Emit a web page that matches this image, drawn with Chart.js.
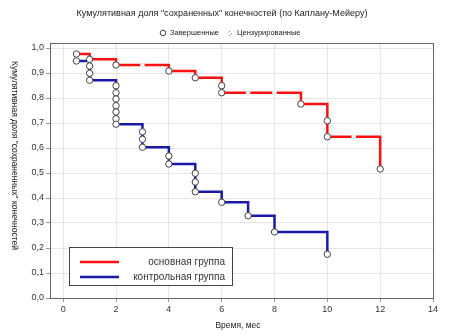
<!DOCTYPE html>
<html>
<head>
<meta charset="utf-8">
<script src="https://cdn.jsdelivr.net/npm/chart.js@4.4.1/dist/chart.umd.min.js"></script>
<style>
  html, body { margin: 0; padding: 0; background: #fff; }
  #wrap { width: 450px; height: 336px; }
</style>
</head>
<body>
<div id="wrap"><canvas id="kmChart" width="450" height="336"></canvas></div>
<script>
// основная группа - ступенчатая кривая
const mainTimes = [0.5, 1, 2, 4, 5, 6, 9, 10, 12];
const mainSurv  = [0.976, 0.955, 0.932, 0.908, 0.881, 0.821, 0.776, 0.645, 0.516];
// завершенные (кружки)
const mainEventT = [0.5, 1, 2, 4, 5, 6, 6, 9, 10, 10, 12];
const mainEventS = [0.976, 0.955, 0.932, 0.908, 0.881, 0.849, 0.821, 0.776, 0.709, 0.645, 0.516];
// цензурированные
const mainCensT = [3, 7, 8, 11];
const mainCensS = [0.932, 0.821, 0.821, 0.645];

// контрольная группа
const ctrlTimes = [0.5, 1, 2, 3, 4, 5, 6, 7, 8, 10];
const ctrlSurv  = [0.948, 0.871, 0.695, 0.603, 0.536, 0.425, 0.383, 0.329, 0.264, 0.175];
const ctrlEventT = [0.5, 1, 1, 1, 2, 2, 2, 2, 2, 2, 2, 3, 3, 3, 4, 4, 5, 5, 5, 6, 7, 8, 10];
const ctrlEventS = [0.948, 0.928, 0.899, 0.871, 0.849, 0.821, 0.796, 0.769, 0.744, 0.717, 0.695,
                    0.665, 0.635, 0.603, 0.568, 0.536, 0.499, 0.464, 0.425, 0.383, 0.329, 0.264, 0.175];

const xTicks = [0, 2, 4, 6, 8, 10, 12, 14];
const titleText = 'Кумулятивная доля "сохраненных" конечностей (по Каплану-Мейеру)';
const yTitle = 'Кумулятивная доля "сохраненных" конечностей';
const xTitle = 'Время, мес';
const groupNames = ['основная группа', 'контрольная группа'];

const FONT = "'Liberation Sans', Arial, sans-serif";

function pts(xs, ys) {
  return xs.map((x, i) => ({ x: x, y: ys[i] }));
}

// заголовок, подписи и легенда рисуем сами
const decor = {
  id: 'decor',
  afterDraw(chart) {
    const c = chart.ctx;
    const area = chart.chartArea;
    c.save();
    c.fillStyle = '#222';
    c.textBaseline = 'middle';
    c.textAlign = 'center';
    c.font = '9px ' + FONT;
    c.fillText(titleText, 222, 14);

    // верхняя легенда
    c.font = '7.5px ' + FONT;
    c.textAlign = 'left';
    c.strokeStyle = '#444';
    c.lineWidth = 1;
    c.beginPath(); c.arc(163, 33, 2.8, 0, Math.PI * 2); c.stroke();
    c.fillText('Завершенные', 170, 33);
    c.fillStyle = '#888';
    c.fillRect(229, 31, 1, 1); c.fillRect(231, 33, 1, 1); c.fillRect(229, 35, 1, 1);
    c.fillStyle = '#222';
    c.fillText('Цензурированные', 237, 33);

    // подпись оси Y (по часовой стрелке)
    c.save();
    c.translate(14, (area.top + area.bottom) / 2 - 15);
    c.rotate(Math.PI / 2);
    c.textAlign = 'center';
    c.font = '8.5px ' + FONT;
    c.fillText(yTitle, 0, 0);
    c.restore();

    // подпись оси X
    c.textAlign = 'center';
    c.font = '8.5px ' + FONT;
    c.fillText(xTitle, 238, 326);

    // легенда групп внутри поля
    const bx = 69, by = 247, bw = 163, bh = 38;
    c.fillStyle = '#fff';
    c.fillRect(bx, by, bw, bh);
    c.strokeStyle = '#444';
    c.lineWidth = 1;
    c.strokeRect(bx + 0.5, by + 0.5, bw, bh);
    c.lineWidth = 2.5;
    c.strokeStyle = '#ff1010';
    c.beginPath(); c.moveTo(80, 262); c.lineTo(119, 262); c.stroke();
    c.strokeStyle = '#1a1aa8';
    c.beginPath(); c.moveTo(80, 277); c.lineTo(119, 277); c.stroke();
    c.fillStyle = '#333';
    c.font = '10px ' + FONT;
    c.textAlign = 'right';
    c.fillText(groupNames[0], 225, 262);
    c.fillText(groupNames[1], 225, 277);
    c.restore();
  }
};

const config = {
  type: 'scatter',
  data: {
    datasets: [
      {
        label: groupNames[0],
        data: pts(mainTimes, mainSurv),
        showLine: true,
        stepped: 'before',
        borderColor: '#ff1010',
        borderWidth: 2.5,
        pointRadius: 0,
        order: 5
      },
      {
        label: groupNames[1],
        data: pts(ctrlTimes, ctrlSurv),
        showLine: true,
        stepped: 'before',
        borderColor: '#1a1aa8',
        borderWidth: 2.5,
        pointRadius: 0,
        order: 4
      },
      {
        label: 'cens',
        data: pts(mainCensT, mainCensS),
        pointStyle: 'rect',
        pointRadius: 2.5,
        backgroundColor: '#fff',
        borderColor: '#e4e4e4',
        borderWidth: 1,
        order: 3
      },
      {
        label: 'ev1',
        data: pts(mainEventT, mainEventS),
        pointRadius: 3.2,
        backgroundColor: '#fff',
        borderColor: '#444',
        borderWidth: 1,
        order: 2
      },
      {
        label: 'ev2',
        data: pts(ctrlEventT, ctrlEventS),
        pointRadius: 3.2,
        backgroundColor: '#fff',
        borderColor: '#444',
        borderWidth: 1,
        order: 1
      }
    ]
  },
  options: {
    responsive: false,
    animation: false,
    events: [],
    layout: { padding: { left: 0, top: 43, right: 17, bottom: 0 } },
    plugins: { legend: { display: false }, tooltip: { enabled: false } },
    scales: {
      x: {
        type: 'linear',
        min: -0.5,
        max: 14,
        afterBuildTicks: (s) => { s.ticks = xTicks.map(v => ({ value: v })); },
        afterFit: (s) => { s.height = 38; },
        ticks: {
          color: '#333',
          font: { family: FONT, size: 9 },
          padding: 2,
          maxRotation: 0,
          callback: (v) => String(v)
        },
        grid: { color: '#e6e6e6', tickLength: 4, tickColor: '#999' },
        border: { color: '#666', width: 1 }
      },
      y: {
        type: 'linear',
        min: 0,
        max: 1.02,
        afterBuildTicks: (s) => {
          const t = [];
          for (let i = 0; i <= 10; i++) t.push({ value: i / 10 });
          s.ticks = t;
        },
        afterFit: (s) => { s.width = 50; },
        ticks: {
          color: '#333',
          font: { family: FONT, size: 9 },
          padding: 2,
          callback: (v) => v.toFixed(1).replace('.', ',')
        },
        grid: { color: '#e6e6e6', tickLength: 4, tickColor: '#999' },
        border: { color: '#666', width: 1 }
      }
    }
  },
  plugins: [decor, {
    id: 'frame',
    afterDatasetsDraw(chart) {
      const a = chart.chartArea, c = chart.ctx;
      c.save();
      c.strokeStyle = '#666';
      c.lineWidth = 1;
      c.strokeRect(Math.round(a.left) + 0.5, Math.round(a.top) + 0.5,
        Math.round(a.right - a.left), Math.round(a.bottom - a.top));
      c.restore();
    }
  }]
};

const kmChart = new Chart(document.getElementById('kmChart'), config);
</script>
</body>
</html>
